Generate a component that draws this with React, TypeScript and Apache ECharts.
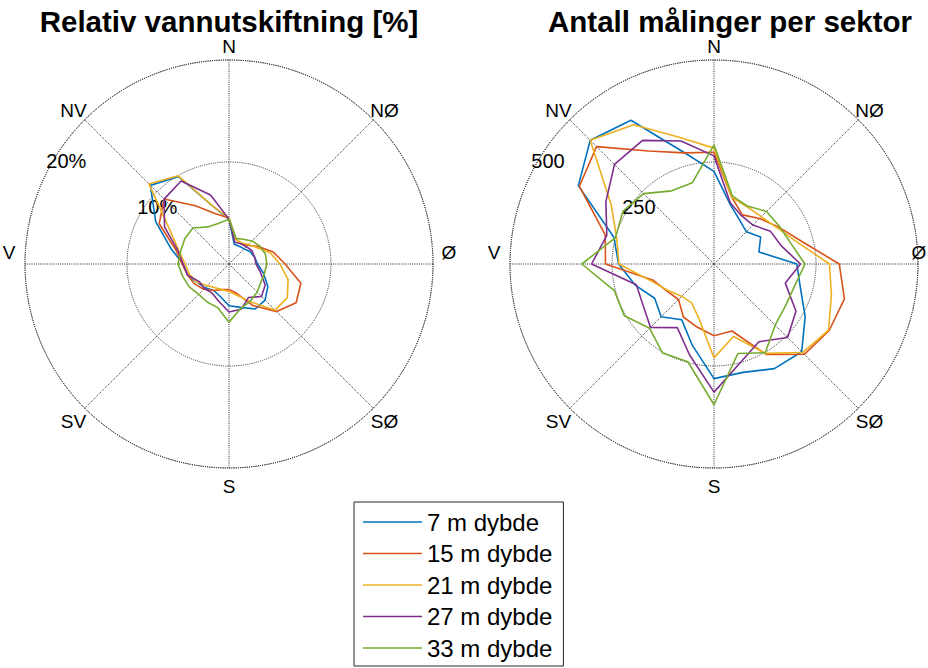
import React, { useEffect, useRef } from "react";
import * as echarts from "echarts";

// Sector centre directions (compass degrees, clockwise from north)
const SECTOR_ANGLES = [
  0, 15, 30, 45, 60, 75, 90, 105, 120, 135, 150, 165,
  180, 195, 210, 225, 240, 255, 270, 285, 300, 315, 330, 345,
];

const COMPASS_NAMES = ["N", "NØ", "Ø", "SØ", "S", "SV", "V", "NV"];
const DEPTH_NAMES = ["7 m dybde", "15 m dybde", "21 m dybde", "27 m dybde", "33 m dybde"];

// Relative water exchange [%] per sector
const exchange7 = [4.4, 2.0, 2.0, 2.1, 2.4, 2.6, 2.8, 3.5, 4.4, 5.0, 5.1, 4.4, 4.1, 3.3, 3.0, 3.3, 3.6, 4.2, 4.5, 5.9, 8.3, 10.9, 9.9, 5.8];
const exchange15 = [4.5, 2.6, 2.3, 2.6, 3.4, 4.5, 5.5, 7.3, 7.6, 6.6, 4.7, 3.0, 2.5, 2.6, 3.0, 3.5, 3.9, 4.2, 4.6, 5.4, 7.9, 9.0, 6.6, 5.1];
const exchange21 = [4.5, 2.5, 2.4, 2.7, 3.2, 4.2, 5.0, 6.0, 6.6, 6.4, 4.3, 3.2, 2.7, 2.6, 2.7, 3.0, 3.6, 4.0, 4.3, 5.1, 6.7, 11.1, 10.0, 5.8];
const exchange27 = [4.4, 2.2, 2.3, 2.4, 2.6, 2.6, 2.65, 3.2, 4.1, 4.5, 3.8, 4.6, 4.7, 3.8, 3.3, 3.4, 3.4, 4.2, 4.5, 5.2, 7.3, 9.0, 9.4, 7.0];
const exchange33 = [4.4, 2.6, 2.8, 3.2, 3.5, 3.7, 3.7, 3.6, 3.6, 3.9, 4.2, 4.5, 5.7, 4.4, 4.3, 4.2, 4.5, 4.7, 5.0, 4.9, 5.0, 5.0, 4.2, 4.1];

// Number of measurements per sector
const count7 = [227, 152, 125, 112, 132, 114, 203, 219, 258, 304, 296, 275, 281, 206, 158, 183, 168, 200, 234, 254, 384, 429, 407, 283];
const count15 = [274, 169, 139, 158, 182, 220, 307, 331, 326, 313, 256, 170, 176, 160, 150, 123, 133, 154, 266, 276, 381, 407, 320, 282];
const count21 = [284, 169, 162, 164, 178, 210, 283, 298, 324, 307, 253, 184, 230, 140, 110, 112, 130, 160, 233, 247, 291, 429, 394, 321];
const count27 = [265, 155, 136, 135, 160, 171, 212, 181, 232, 255, 220, 250, 314, 231, 180, 220, 201, 197, 300, 272, 306, 345, 350, 312];
const count33 = [292, 173, 164, 182, 185, 195, 223, 205, 203, 212, 251, 227, 345, 248, 252, 223, 254, 253, 324, 250, 258, 244, 207, 206];

const EXCHANGE_TICKS = [10, 20];
const COUNT_TICKS = [250, 500];

const COLORS = ["#0072BD", "#D95319", "#EDB120", "#7E2F8E", "#77AC30"];
const FONT = "'Liberation Sans', Arial, Helvetica, sans-serif";

const WIDTH = 928;
const HEIGHT = 668;
const RADIUS = 204;
const CENTERS: [number, number][] = [
  [229, 264],
  [714, 264],
];

const gridLine = { color: "#2b2b2b", width: 1, type: [1, 1.2] as number[] };

function ring(values: number[]) {
  const pts = values.map((v, i) => [v, SECTOR_ANGLES[i]]);
  pts.push([values[0], SECTOR_ANGLES[0]]);
  return pts;
}

function compassLabels(cx: number, cy: number) {
  return COMPASS_NAMES.map((name, i) => {
    const a = (i * 45 * Math.PI) / 180;
    const r = 220;
    const sx = Math.sin(a);
    const cy2 = Math.cos(a);
    // keep the east label inside the canvas when it would run past the right edge
    const x = Math.min(cx + r * sx, WIDTH - 9);
    return {
      type: "text",
      x,
      y: cy - r * cy2 + (Math.abs(sx) > 0.99 ? -12 : 2),
      style: {
        text: name,
        fill: "#000",
        font: `19px ${FONT}`,
        align: "center",
        verticalAlign: "middle",
        textAlign: "center",
        textVerticalAlign: "middle",
      },
      silent: true,
    };
  });
}

function radialLabels(cx: number, cy: number, ticks: number[], max: number, fmt: (v: number) => string) {
  const a = (27 * Math.PI) / 180;
  return ticks.map((t) => {
    const r = (t / max) * RADIUS + 1;
    return {
      type: "text",
      x: cx - r * Math.cos(a),
      y: cy - r * Math.sin(a),
      style: {
        text: fmt(t),
        fill: "#000",
        font: `20px ${FONT}`,
        align: "left",
        verticalAlign: "bottom",
        textAlign: "left",
        textVerticalAlign: "bottom",
      },
      silent: true,
    };
  });
}

function title(text: string, x: number) {
  return {
    type: "text",
    x,
    y: 21,
    style: {
      text,
      fill: "#000",
      font: `bold 29.5px ${FONT}`,
      align: "center",
      verticalAlign: "middle",
      textAlign: "center",
      textVerticalAlign: "middle",
    },
    silent: true,
  };
}

export default function App() {
  const ref = useRef<HTMLDivElement>(null);

  useEffect(() => {
    if (!ref.current) return;
    const chart = echarts.init(ref.current, undefined, { renderer: "svg" });

    const exchangeSets = [exchange7, exchange15, exchange21, exchange27, exchange33];
    const countSets = [count7, count15, count21, count27, count33];

    const series: any[] = [];
    DEPTH_NAMES.forEach((name, i) => {
      series.push({
        type: "line",
        name,
        coordinateSystem: "polar",
        polarIndex: 0,
        data: ring(exchangeSets[i]),
        symbol: "none",
        color: COLORS[i],
        lineStyle: { width: 1.6, color: COLORS[i] },
      });
    });
    DEPTH_NAMES.forEach((name, i) => {
      series.push({
        type: "line",
        name,
        coordinateSystem: "polar",
        polarIndex: 1,
        data: ring(countSets[i]),
        symbol: "none",
        color: COLORS[i],
        lineStyle: { width: 1.6, color: COLORS[i] },
      });
    });

    const angleAxis = (idx: number) => ({
      polarIndex: idx,
      type: "value",
      min: 0,
      max: 360,
      interval: 45,
      startAngle: 90,
      clockwise: true,
      axisLine: { show: true, lineStyle: gridLine },
      axisTick: { show: false },
      axisLabel: { show: false },
      splitLine: { show: true, lineStyle: gridLine },
    });
    const radiusAxis = (idx: number, max: number, interval: number) => ({
      polarIndex: idx,
      type: "value",
      min: 0,
      max,
      interval,
      axisLine: { show: false },
      axisTick: { show: false },
      axisLabel: { show: false },
      splitLine: { show: true, lineStyle: gridLine },
    });

    chart.setOption({
      animation: false,
      backgroundColor: "#ffffff",
      polar: CENTERS.map((c) => ({ center: c, radius: RADIUS })),
      angleAxis: [angleAxis(0), angleAxis(1)],
      radiusAxis: [radiusAxis(0, 20, 10), radiusAxis(1, 500, 250)],
      legend: {
        data: DEPTH_NAMES,
        orient: "vertical",
        left: 354,
        top: 502,
        icon: "rect",
        itemWidth: 59,
        itemHeight: 1.5,
        itemGap: 7.5,
        padding: [8, 11, 6, 9],
        borderColor: "#262626",
        borderWidth: 1,
        selectedMode: false,
        textStyle: { fontFamily: FONT, fontSize: 24, color: "#000", lineHeight: 24 },
      },
      graphic: [
        title("Relativ vannutskiftning [%]", CENTERS[0][0]),
        title("Antall målinger per sektor", CENTERS[1][0] + 16),
        ...compassLabels(CENTERS[0][0], CENTERS[0][1]),
        ...compassLabels(CENTERS[1][0], CENTERS[1][1]),
        ...radialLabels(CENTERS[0][0], CENTERS[0][1], EXCHANGE_TICKS, 20, (v) => `${v}%`),
        ...radialLabels(CENTERS[1][0], CENTERS[1][1], COUNT_TICKS, 500, (v) => `${v}`),
      ],
      series,
    });

    return () => chart.dispose();
  }, []);

  return (
    <div
      ref={ref}
      style={{ position: "fixed", left: 0, top: 0, width: WIDTH, height: HEIGHT, background: "#fff" }}
    />
  );
}
